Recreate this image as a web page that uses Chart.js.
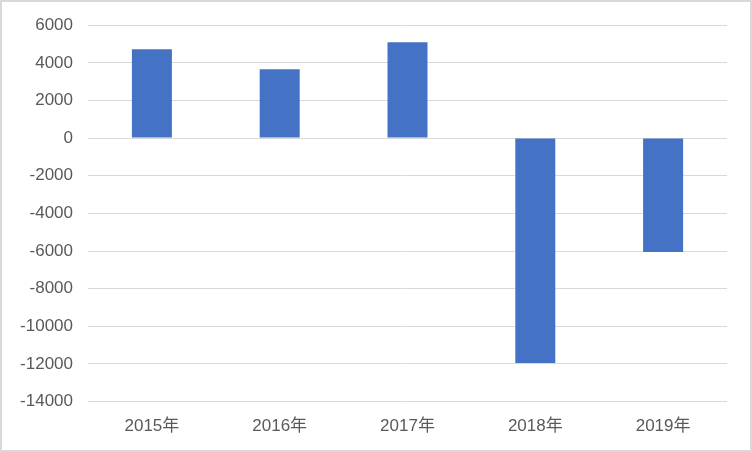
<!DOCTYPE html>
<html lang="zh-cn">
<head>
    <meta charset="UTF-8">
    <title>年度数据</title>
    <script src="https://cdn.jsdelivr.net/npm/chart.js"></script>
    <style>
        html, body { margin: 0; padding: 0; background: #fff; }
        .dash { width: 752px; height: 452px; }
    </style>
</head>
<body>
    <div class="dash">
        <canvas id="myChart" width="752" height="452"></canvas>
    </div>

    <script>
        // dados do gráfico
        const anos = ['2015年', '2016年', '2017年', '2018年', '2019年'];
        const valores = [4720, 3660, 5090, -11950, -6050];
        const eixoMin = -14000;
        const eixoMax = 6000;
        const passo = 2000;

        const fonte = '"Liberation Sans", "Noto Sans CJK SC", sans-serif';

        // borda cinza em volta do gráfico
        const borda = {
            id: 'borda',
            beforeDraw(chart) {
                const ctx = chart.ctx;
                ctx.save();
                ctx.fillStyle = '#fff';
                ctx.fillRect(0, 0, chart.width, chart.height);
                ctx.strokeStyle = '#d9d9d9';
                ctx.lineWidth = 2;
                ctx.strokeRect(1, 1, chart.width - 2, chart.height - 2);
                ctx.restore();
            }
        };

        const ctx = document.getElementById('myChart').getContext('2d');
        new Chart(ctx, {
            type: 'bar',
            data: {
                labels: anos,
                datasets: [{
                    data: valores,
                    backgroundColor: '#4472c4',
                    barPercentage: 0.313,
                    categoryPercentage: 1
                }]
            },
            options: {
                responsive: false,
                animation: false,
                layout: {
                    padding: { left: 0, right: 25, top: 24, bottom: 8 }
                },
                plugins: {
                    legend: { display: false },
                    tooltip: { enabled: false }
                },
                scales: {
                    x: {
                        grid: { display: false },
                        border: { display: false },
                        ticks: {
                            color: '#595959',
                            padding: 7,
                            font: { family: fonte, size: 17 }
                        }
                    },
                    y: {
                        min: eixoMin,
                        max: eixoMax,
                        afterFit(scale) { scale.width = 88; },
                        grid: { color: '#d9d9d9', lineWidth: 1, drawTicks: false },
                        border: { display: false },
                        ticks: {
                            stepSize: passo,
                            color: '#595959',
                            padding: 15,
                            font: { family: fonte, size: 17 },
                            callback: (v) => String(v)
                        }
                    }
                }
            },
            plugins: [borda]
        });
    </script>
</body>
</html>
